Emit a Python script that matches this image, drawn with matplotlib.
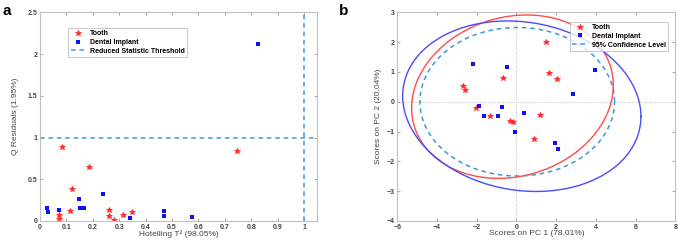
import numpy as np
import matplotlib.pyplot as plt

# panel a: Hotelling T^2 vs Q residuals
tooth_t2 = [0.085, 0.187, 0.122, 0.115, 0.072, 0.072, 0.263, 0.263, 0.282, 0.314, 0.350, 0.746]
tooth_q = [0.887, 0.651, 0.379, 0.120, 0.068, 0.024, 0.128, 0.064, 0.012, 0.072, 0.104, 0.835]
impl_t2 = [0.025, 0.030, 0.072, 0.146, 0.153, 0.165, 0.237, 0.341, 0.468, 0.468, 0.576, 0.824]
impl_q = [0.152, 0.104, 0.132, 0.264, 0.160, 0.156, 0.327, 0.036, 0.116, 0.060, 0.044, 2.117]
t2_limit = 1.0
q_limit = 1.0

# panel b: PCA scores
tooth_pc1 = [-2.68, -2.61, -2.06, -1.35, -0.70, -0.34, -0.16, 0.90, 1.19, 1.50, 1.64, 2.06]
tooth_pc2 = [0.54, 0.40, -0.21, -0.48, 0.79, -0.65, -0.67, -1.25, -0.44, 2.01, 0.98, 0.75]
impl_pc1 = [-2.21, -1.87, -1.62, -0.91, -0.75, -0.49, -0.09, 0.36, 1.96, 2.11, 2.85, 3.97]
impl_pc2 = [1.27, -0.14, -0.47, -0.47, -0.19, 1.18, -1.01, -0.37, -1.39, -1.57, 0.26, 1.05]

# ellipses: centre x, centre y, half width, half height, coupling cos(phi)
ell_conf = [0.04, 0.0, 4.9, 2.49, 0.0]
ell_tooth = [-0.2, 0.17, 5.08, 2.74, 0.14]
ell_impl = [0.27, -0.15, 6.0, 2.86, -0.12]

red = '#ff2a2a'
blue = '#1010ff'
thr = '#3d98da'
grey = '#444444'

plt.rcParams['font.family'] = ['Liberation Sans', 'DejaVu Sans']
plt.rcParams['font.weight'] = 'bold'

fig = plt.figure(figsize=(6.78, 2.41), dpi=100)
ax1 = fig.add_axes([0.059, 0.083, 0.409, 0.866])
ax2 = fig.add_axes([0.586, 0.083, 0.410, 0.866])


def style(ax):
    for s in ax.spines.values():
        s.set_color('#c0c0c0')
        s.set_linewidth(0.8)
    ax.tick_params(direction='in', length=2.5, width=0.6, color='#999999',
                   labelsize=5, labelcolor=grey, top=True, right=True, pad=2)


def ellipse(p):
    t = np.linspace(0, 2 * np.pi, 400)
    phi = np.arccos(p[4])
    return p[0] + p[2] * np.cos(t), p[1] + p[3] * np.cos(t - phi)


# ---- a ----
ax1.plot(tooth_t2, tooth_q, '*', color=red, ms=3.8, mew=0.6, label='Tooth')
ax1.plot(impl_t2, impl_q, 's', color=blue, ms=2.4, mew=0, label='Dental Implant')
ax1.axhline(q_limit, color=thr, ls='--', lw=1.1, dashes=(3, 2.5), label='Reduced Statistic Threshold')
ax1.axvline(t2_limit, color=thr, ls='--', lw=1.1, dashes=(3, 2.5))
ax1.set_xlim(0, 1.05)
ax1.set_ylim(0, 2.5)
ax1.set_xticks(np.arange(0, 1.01, 0.1))
ax1.set_xticklabels(['0', '0.1', '0.2', '0.3', '0.4', '0.5', '0.6', '0.7', '0.8', '0.9', '1'])
ax1.set_yticks([0, 0.5, 1, 1.5, 2, 2.5])
ax1.set_yticklabels(['0', '0.5', '1', '1.5', '2', '2.5'])
style(ax1)
ax1.set_xlabel('Hotelling T\u00b2 (98.05%)', fontsize=6, color=grey, va='top')
ax1.xaxis.set_label_coords(0.5, -0.045)
ax1.set_ylabel('Q Residuals (1.95%)', fontsize=6, color=grey, labelpad=6)
leg = ax1.legend(loc='upper left', bbox_to_anchor=(0.09, 0.94), fontsize=5, frameon=True,
                 fancybox=False, edgecolor='#b0b0b0', borderpad=0.3, labelspacing=0.25,
                 handlelength=2.2, handletextpad=0.6)
leg.get_frame().set_linewidth(0.6)
fig.text(0.003, 0.985, 'a', fontsize=11, fontweight='bold', va='top', ha='left')

# ---- b ----
ax2.axhline(0, color='#bbbbbb', ls=':', lw=0.7)
ax2.axvline(0, color='#bbbbbb', ls=':', lw=0.7)
ax2.plot(tooth_pc1, tooth_pc2, '*', color=red, ms=3.8, mew=0.6, label='Tooth')
ax2.plot(impl_pc1, impl_pc2, 's', color=blue, ms=2.4, mew=0, label='Dental Implant')
ex, ey = ellipse(ell_conf)
ax2.plot(ex, ey, color=thr, lw=1.1, dashes=(3, 2.5), label='95% Confidence Level')
ex, ey = ellipse(ell_tooth)
ax2.plot(ex, ey, color='#ff4a4a', lw=1.0)
ex, ey = ellipse(ell_impl)
ax2.plot(ex, ey, color='#4a4aff', lw=1.0)
ax2.set_xlim(-6, 8)
ax2.set_ylim(-4, 3)
ax2.set_xticks(range(-6, 9, 2))
ax2.set_yticks(range(-4, 4))
style(ax2)
ax2.set_xlabel('Scores on PC 1 (78.01%)', fontsize=6, color=grey, va='top')
ax2.xaxis.set_label_coords(0.5, -0.045)
ax2.set_ylabel('Scores on PC 2 (20.04%)', fontsize=6, color=grey, labelpad=3)
leg = ax2.legend(loc='upper right', bbox_to_anchor=(0.985, 0.97), fontsize=5, frameon=True,
                 fancybox=False, edgecolor='#b0b0b0', borderpad=0.3, labelspacing=0.25,
                 handlelength=2.2, handletextpad=0.6)
leg.get_frame().set_linewidth(0.6)
fig.text(0.5, 0.985, 'b', fontsize=11, fontweight='bold', va='top', ha='left')

fig.savefig('out.png', dpi=100)
